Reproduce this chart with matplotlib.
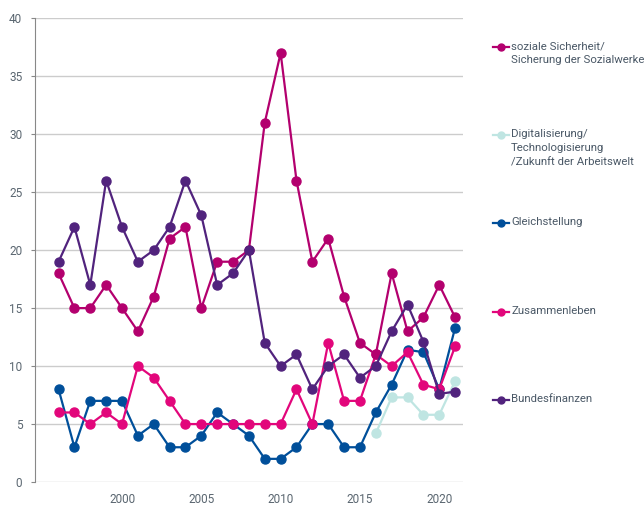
import matplotlib
matplotlib.use("Agg")
import matplotlib.pyplot as plt
from matplotlib.lines import Line2D

plt.rcParams["font.family"] = ["Roboto", "DejaVu Sans"]

years = list(range(1996, 2022))

soziale = [18, 15, 15, 17, 15, 13, 16, 21, 22, 15, 19, 19, 20, 31, 37, 26,
           19, 21, 16, 12, 11, 18, 13, 14.2, 17, 14.2]
digital_years = [2016, 2017, 2018, 2019, 2020, 2021]
digital = [4.2, 7.3, 7.3, 5.8, 5.8, 8.7]
gleich = [8, 3, 7, 7, 7, 4, 5, 3, 3, 4, 6, 5, 4, 2, 2, 3,
          5, 5, 3, 3, 6, 8.4, 11.4, 11.2, 8.0, 13.3]
zusammen = [6, 6, 5, 6, 5, 10, 9, 7, 5, 5, 5, 5, 5, 5, 5, 8,
            5, 12, 7, 7, 11, 10, 11.2, 8.4, 8.0, 11.7]
bundes = [19, 22, 17, 26, 22, 19, 20, 22, 26, 23, 17, 18, 20, 12, 10, 11,
          8, 10, 11, 9, 10, 13, 15.3, 12.1, 7.6, 7.8]

labels = [
    "soziale Sicherheit/\nSicherung der Sozialwerke",
    "Digitalisierung/\nTechnologisierung\n/Zukunft der Arbeitswelt",
    "Gleichstellung",
    "Zusammenleben",
    "Bundesfinanzen",
]
colors = ["#b3006e", "#bfe5e2", "#004f9a", "#e2067b", "#51237d"]

fig = plt.figure(figsize=(6.44, 5.2), dpi=100)
ax = fig.add_axes([0.054, 0.073, 0.665, 0.892])

kw = dict(lw=1.6, marker="o", markersize=6.5)
ax.plot(digital_years, digital, color=colors[1], **kw)
ax.plot(years, gleich, color=colors[2], **kw)
ax.plot(years, zusammen, color=colors[3], **kw)
ax.plot(years, soziale, color=colors[0], **kw)
ax.plot(years, bundes, color=colors[4], **kw)

ax.set_xlim(1994.5, 2021.5)
ax.set_ylim(0, 40)
ax.set_yticks(range(0, 41, 5))
ax.set_xticks([2000, 2005, 2010, 2015, 2020])
ax.yaxis.grid(True, color="#cccccc", lw=1)
ax.set_axisbelow(True)
for s in ["top", "right", "bottom"]:
    ax.spines[s].set_visible(False)
ax.spines["left"].set_color("#888888")
ax.tick_params(axis="y", length=3, color="#888888", labelsize=8.5, labelcolor="#5a6670", pad=6)
ax.tick_params(axis="x", length=0, labelsize=8.5, labelcolor="#5a6670", pad=8)

# legend drawn by hand to keep the uneven spacing
leg_y = [47, 135, 223, 312, 400]
for lab, c, y in zip(labels, colors, leg_y):
    fy = 1 - y / 520
    fig.add_artist(Line2D([493 / 644, 509 / 644], [fy, fy], color=c, lw=1.6,
                          transform=fig.transFigure))
    fig.add_artist(Line2D([501 / 644], [fy], color=c, marker="o", markersize=5,
                          transform=fig.transFigure))
    fig.text(511 / 644, fy + 6 / 520, lab, fontsize=8.2, color="#4a5866",
             va="top", ha="left", linespacing=1.55)

fig.savefig("out.png", dpi=100)
